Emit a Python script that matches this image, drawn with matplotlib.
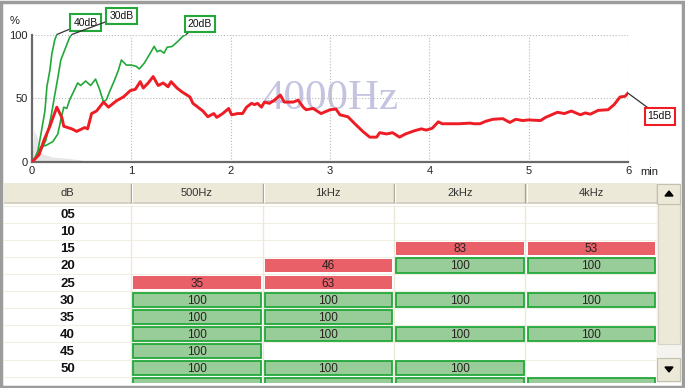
import matplotlib
matplotlib.use('Agg')
import matplotlib.pyplot as plt
from matplotlib.patches import Rectangle, Polygon

plt.rcParams['font.family'] = ['Liberation Sans', 'DejaVu Sans']

# --- curves: time (min) vs % ---
red_t = [0, 0.07, 0.12, 0.18, 0.25, 0.30, 0.32, 0.40, 0.45, 0.53,
         0.56, 0.60, 0.65, 0.72, 0.77, 0.85, 0.92, 0.99, 1.04, 1.09,
         1.12, 1.17, 1.22, 1.27, 1.32, 1.37, 1.40, 1.46, 1.51, 1.59,
         1.62, 1.67, 1.72, 1.77, 1.83, 1.86, 1.92, 1.98, 2.01, 2.07,
         2.12, 2.16, 2.21, 2.24, 2.27, 2.31, 2.34, 2.39, 2.44, 2.50,
         2.54, 2.63, 2.68, 2.73, 2.76, 2.83, 2.91, 3.00, 3.06, 3.10,
         3.18, 3.25, 3.33, 3.40, 3.47, 3.50, 3.57, 3.63, 3.70, 3.76,
         3.85, 3.92, 3.97, 4.03, 4.09, 4.13, 4.30, 4.41, 4.45, 4.51,
         4.57, 4.64, 4.74, 4.81, 4.87, 4.94, 5.00, 5.12, 5.17, 5.29,
         5.36, 5.43, 5.52, 5.57, 5.62, 5.70, 5.80, 5.86, 5.92, 5.97,
         6.00]
red_y = [0, 5.5, 17, 28, 43, 35, 28, 26, 24, 27,
         26, 38, 40, 47, 43, 48, 51, 56, 57, 63,
         58, 62, 67, 60, 62, 59, 63, 58, 55, 51,
         46, 43, 40, 35.5, 38, 35, 38, 42, 37, 38,
         38, 43, 46, 45, 46, 43, 47, 46, 48.5, 52.5,
         47, 47, 48.5, 43, 41, 42, 38, 41, 41.5, 37,
         35.5, 30, 24, 19.5, 19.5, 23, 22, 23, 19.5, 22,
         24.5, 26, 25, 26.5, 31.5, 30, 30, 30.5, 30, 30,
         32, 33.5, 34, 31, 33.5, 32.5, 33, 32.5, 35, 39,
         38, 40, 37, 38.5, 37.5, 40.5, 41, 45, 51, 51.5,
         54]

g40_t = [0, 0.03, 0.06, 0.09, 0.13, 0.15, 0.18, 0.20, 0.23, 0.25]
g40_y = [0, 3, 9, 22, 40, 59, 72, 85, 96, 100]

g30_t = [0, 0.05, 0.09, 0.14, 0.19, 0.23, 0.26, 0.29, 0.34, 0.38, 0.40]
g30_y = [0, 5, 9, 17, 35, 53, 66, 80, 90, 98, 100]

g20_t = [0, 0.05, 0.09, 0.14, 0.21, 0.26, 0.29, 0.32, 0.35, 0.38,
         0.43, 0.46, 0.49, 0.54, 0.59, 0.64, 0.68, 0.72, 0.75, 0.78,
         0.83, 0.87, 0.90, 0.95, 1.00, 1.05, 1.08, 1.13, 1.18, 1.23,
         1.26, 1.29, 1.33, 1.36, 1.41, 1.47, 1.52, 1.55]
g20_y = [0, 6, 12, 13, 16, 22, 33, 43, 42, 49,
         57, 62, 60, 63.5, 60, 65, 57, 47, 49, 55,
         64, 72, 80, 76, 76, 75, 73, 77.5, 84, 90.7,
         86.5, 87.6, 85.4, 90, 90.6, 94.7, 98.7, 100]

ghost_t = [0, 0.02, 0.05, 0.08, 0.12, 0.2, 0.35, 0.5]
ghost_y = [0, 25, 20, 8, 6, 4, 3, 1.5]

# --- table ---
db_rows = ['05', '10', '15', '20', '25', '30', '35', '40', '45', '50']
freqs = ['500Hz', '1kHz', '2kHz', '4kHz']
col_500 = [None, None, None, None, 35, 100, 100, 100, 100, 100, 100]
col_1k = [None, None, None, 46, 63, 100, 100, 100, None, 100, 100]
col_2k = [None, None, 83, 100, None, 100, None, 100, None, 100, 100]
col_4k = [None, None, 53, 100, None, 100, None, 100, None, None, 100]
columns = [col_500, col_1k, col_2k, col_4k]

GREEN = '#22a83a'
RED = '#ee1c24'
W, H = 685, 388
fig = plt.figure(figsize=(W / 100, H / 100), dpi=100)


def px_box(x0, y0, x1, y1):
    return [x0 / W, 1 - y1 / H, (x1 - x0) / W, (y1 - y0) / H]


# chrome: frame + scrollbar
ov = fig.add_axes([0, 0, 1, 1])
ov.set_xlim(0, W)
ov.set_ylim(H, 0)
ov.axis('off')
ov.add_patch(Rectangle((657, 183), 24, 200, fc='#f4f3ee', ec='none'))
ov.add_patch(Rectangle((658, 204), 22, 140, fc='#ece9d8', ec='#d6d2c4', lw=0.8))
ov.add_patch(Rectangle((657.5, 183.5), 23, 20, fc='#ece9d8', ec='#c4c0b0', lw=0.8))
ov.add_patch(Rectangle((657.5, 358), 23, 23, fc='#ece9d8', ec='#c4c0b0', lw=0.8))
ov.add_patch(Polygon([(665, 196), (673, 196), (669, 191)], color='black'))
ov.add_patch(Polygon([(665, 367), (673, 367), (669, 372)], color='black'))
ov.add_patch(Rectangle((1.5, 1.5), W - 3, H - 3, fill=False, ec='#9c9c9c', lw=2.5))

# chart
ax = fig.add_axes(px_box(32, 34.5, 628, 162))
ax.set_xlim(0, 6)
ax.set_ylim(0, 100)
ax.fill_between(ghost_t, ghost_y, color='#e6e6e6', lw=0, zorder=1)
ax.text(3.0, 50, '4000Hz', fontsize=31, family='Liberation Serif',
        color='#c4c4e2', ha='center', va='center', zorder=1)
ax.plot(g40_t, g40_y, color=GREEN, lw=1.2, zorder=3)
ax.plot(g30_t, g30_y, color=GREEN, lw=1.2, zorder=3)
ax.plot(g20_t, g20_y, color=GREEN, lw=1.2, zorder=3)
ax.plot(red_t, red_y, color=RED, lw=2.1, zorder=4)

ax.set_xticks(range(7))
ax.set_yticks([0, 50, 100])
ax.grid(True, ls=':', color='#b8b8b8', lw=0.8)
ax.tick_params(length=0, labelsize=8, colors='#222', pad=3)
for s in ['top', 'right']:
    ax.spines[s].set_visible(False)
for s in ['left', 'bottom']:
    ax.spines[s].set_color('#6a6a6a')
    ax.spines[s].set_linewidth(1.6)
ax.text(6.12, -7.8, 'min', fontsize=8, color='#222', ha='left', va='center', clip_on=False)
ax.text(-0.18, 110.6, '%', fontsize=8, color='#222', ha='center', va='center', clip_on=False)


def tag(label, t, y, bx, by, ec):
    ax.annotate(label, xy=(t, y), xytext=(bx, by), ha='center', va='center',
                fontsize=7.5, color='#111', annotation_clip=False, zorder=6,
                bbox=dict(boxstyle='square,pad=0.3', fc='white', ec=ec, lw=1.5),
                arrowprops=dict(arrowstyle='-', color='#333', lw=0.9,
                                shrinkA=0, shrinkB=0))


tag('40dB', g40_t[-1], g40_y[-1], 0.54, 109.4, GREEN)
tag('30dB', g30_t[-1], g30_y[-1], 0.90, 114.5, GREEN)
tag('20dB', g20_t[-1], g20_y[-1], 1.69, 108.2, GREEN)
tag('15dB', red_t[-1], red_y[-1], 6.32, 35.7, RED)

# table
tab = fig.add_axes(px_box(4, 183, 657, 383))
tab.set_xlim(-127 / 131.5, 4)
tab.set_ylim(10.37, -1.33)
tab.axis('off')
tab.add_patch(Rectangle((-1, -1.33), 5.1, 1.2, fc='#ece9d8', ec='none'))
tab.plot([-1, 4.1], [-0.14, -0.14], color='#d2cebf', lw=1.2)
for x in range(5):
    tab.plot([x, x], [-1.25, -0.22], color='#a9a596', lw=1)
    tab.plot([x + 0.008, x + 0.008], [-1.25, -0.22], color='white', lw=0.8)
tab.text(-127 / 263, -0.74, 'dB', fontsize=8, color='#333', ha='center', va='center')
for c, f in enumerate(freqs):
    tab.text(c + 0.5, -0.74, f, fontsize=8, color='#333', ha='center', va='center')

for r in range(11):
    tab.plot([-1, 4], [r, r], color='#f1eee3', lw=0.8, zorder=1)
for x in range(5):
    tab.plot([x, x], [0, 10.4], color='#ece9d8', lw=1, zorder=1)

for r, lab in enumerate(db_rows):
    tab.text(-127 / 263, r + 0.55, lab, fontsize=9.5, fontweight='bold',
             color='#111', ha='center', va='center')

for c, col in enumerate(columns):
    for r, v in enumerate(col):
        if v is None:
            continue
        if v >= 100:
            tab.add_patch(Rectangle((c + 0.016, r + 0.08), 0.972, 0.84,
                                    fc='#98cc98', ec=GREEN, lw=1.3, zorder=2))
        else:
            tab.add_patch(Rectangle((c + 0.016, r + 0.12), 0.972, 0.76,
                                    fc='#ea6068', ec='none', zorder=2))
        # the last row is scrolled half out of view: only its cell edge shows
        if r < len(db_rows):
            tab.text(c + 0.5, r + 0.55, str(v), fontsize=8.5, color='#2a2222',
                     ha='center', va='center', zorder=3)

fig.savefig('out.png', dpi=100)
